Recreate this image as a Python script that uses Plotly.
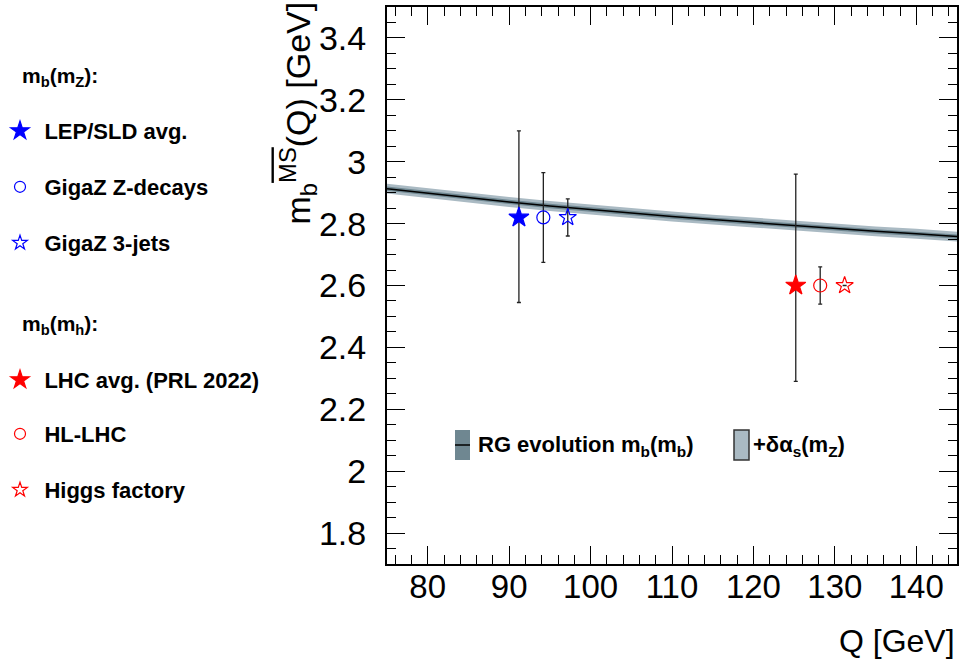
import plotly.graph_objects as go

# ---- data ----
q_curve = [75, 80, 85, 90, 95, 100, 105, 110, 115, 120, 125, 130, 135, 140, 145]
mb_curve = [2.913, 2.898, 2.884, 2.870, 2.857, 2.845, 2.834, 2.823, 2.813, 2.803,
            2.793, 2.784, 2.775, 2.767, 2.758]
mb_inner_err = [0.007] * len(q_curve)    # m_b(m_b) uncertainty
mb_outer_err = [0.016] * len(q_curve)    # + delta alpha_s(m_Z)

names_z = ["LEP/SLD avg.", "GigaZ Z-decays", "GigaZ 3-jets"]
q_z = [91.2, 94.2, 97.2]
mb_z = [2.82, 2.82, 2.82]
up_z = [0.28, 0.145, 0.06]
dn_z = [0.275, 0.145, 0.06]

names_h = ["LHC avg. (PRL 2022)", "HL-LHC", "Higgs factory"]
q_h = [125.2, 128.2, 131.2]
mb_h = [2.60, 2.60, 2.60]
up_h = [0.36, 0.06, 0.0]
dn_h = [0.31, 0.06, 0.0]

band_labels = ["RG evolution m<sub>b</sub>(m<sub>b</sub>)", "+δα<sub>s</sub>(m<sub>Z</sub>)"]

symbols = ["star", "circle-open", "star-open"]
plot_sizes = [15, 13, 13]
leg_sizes = [14, 11, 11]

FONT = "Liberation Sans, Arial, sans-serif"
BAND_OUT = "#aabac3"
BAND_IN = "#6f8791"

# plot-area geometry in pixels (for paper-coordinate placement of text)
L, R, T, B = 387, 957, 7, 564
W, H = R - L, B - T
def px(x):
    return (x - L) / W
def py(y):
    return (B - y) / H

fig = go.Figure()

lo_out = [m - e for m, e in zip(mb_curve, mb_outer_err)]
hi_out = [m + e for m, e in zip(mb_curve, mb_outer_err)]
lo_in = [m - e for m, e in zip(mb_curve, mb_inner_err)]
hi_in = [m + e for m, e in zip(mb_curve, mb_inner_err)]

fig.add_trace(go.Scatter(x=q_curve, y=lo_out, mode="lines", line=dict(width=0),
                         showlegend=False, hoverinfo="skip"))
fig.add_trace(go.Scatter(x=q_curve, y=hi_out, mode="lines", line=dict(width=0),
                         fill="tonexty", fillcolor=BAND_OUT, name=band_labels[1],
                         showlegend=False))
fig.add_trace(go.Scatter(x=q_curve, y=lo_in, mode="lines", line=dict(width=0),
                         showlegend=False, hoverinfo="skip"))
fig.add_trace(go.Scatter(x=q_curve, y=mb_curve, mode="lines",
                         line=dict(width=1.5, color="black"),
                         fill="tonexty", fillcolor=BAND_IN, name=band_labels[0],
                         showlegend=False))
fig.add_trace(go.Scatter(x=q_curve, y=hi_in, mode="lines", line=dict(width=0),
                         fill="tonexty", fillcolor=BAND_IN,
                         showlegend=False, hoverinfo="skip"))

def add_points(qs, ms, ups, dns, names, color):
    for q, m, u, d, n, s, sz in zip(qs, ms, ups, dns, names, symbols, plot_sizes):
        fig.add_trace(go.Scatter(
            x=[q], y=[m], mode="markers", name=n, showlegend=False,
            marker=dict(symbol=s, size=sz, color=color, line=dict(color=color, width=1.2)),
            error_y=dict(type="data", symmetric=False, array=[u], arrayminus=[d],
                         color="#222222", thickness=1.3, width=2)))

add_points(q_z, mb_z, up_z, dn_z, names_z, "#0000ff")
add_points(q_h, mb_h, up_h, dn_h, names_h, "#ff0000")

# legend-only entries (one legend per entry, to reproduce the spaced column)
leg_rows = [131, 187, 243, 380, 434, 490]
all_names = names_z + names_h
all_cols = ["#0000ff"] * 3 + ["#ff0000"] * 3
legend_layouts = {}
for i, (n, c, yrow) in enumerate(zip(all_names, all_cols, leg_rows)):
    lname = "legend" if i == 0 else f"legend{i + 1}"
    fig.add_trace(go.Scatter(
        x=[None], y=[None], mode="markers", name=f"<b>\u2009{n}</b>", legend=lname,
        marker=dict(symbol=symbols[i % 3], size=leg_sizes[i % 3], color=c,
                    line=dict(color=c, width=1.2))))
    legend_layouts[lname] = dict(
        x=px(0), y=py(yrow), xanchor="left", yanchor="middle",
        bgcolor="rgba(0,0,0,0)", borderwidth=0,
        font=dict(family=FONT, size=22, color="black"))

# in-plot legend keys for the bands
shapes = [
    dict(type="rect", xref="paper", yref="paper", x0=px(455), x1=px(470),
         y0=py(460), y1=py(430), fillcolor=BAND_IN, line=dict(width=0)),
    dict(type="line", xref="paper", yref="paper", x0=px(455), x1=px(470),
         y0=py(445), y1=py(445), line=dict(color="black", width=1.5)),
    dict(type="rect", xref="paper", yref="paper", x0=px(734), x1=px(749),
         y0=py(460), y1=py(430), fillcolor=BAND_OUT,
         line=dict(color="#333333", width=1.5)),
]

annotations = [
    dict(text="<b>m<sub>b</sub>(m<sub>Z</sub>):</b>", x=px(20), y=py(77),
         xref="paper", yref="paper", xanchor="left", yanchor="middle", showarrow=False,
         font=dict(family=FONT, size=21, color="black")),
    dict(text="<b>m<sub>b</sub>(m<sub>h</sub>):</b>", x=px(20), y=py(325),
         xref="paper", yref="paper", xanchor="left", yanchor="middle", showarrow=False,
         font=dict(family=FONT, size=21, color="black")),
    dict(text=f"<b>{band_labels[0]}</b>", x=px(476), y=py(446),
         xref="paper", yref="paper", xanchor="left", yanchor="middle", showarrow=False,
         font=dict(family=FONT, size=22, color="black")),
    dict(text=f"<b>{band_labels[1]}</b>", x=px(751), y=py(446),
         xref="paper", yref="paper", xanchor="left", yanchor="middle", showarrow=False,
         font=dict(family=FONT, size=22, color="black")),
    dict(text="m<sub>b</sub><sup><span style='text-decoration:overline'>MS</span></sup>(Q) [GeV]",
         textangle=-90, x=px(297), y=py(0), xref="paper", yref="paper",
         xanchor="center", yanchor="top", showarrow=False,
         font=dict(family=FONT, size=34, color="black")),
    dict(text="Q [GeV]", x=px(957), y=py(641), xref="paper", yref="paper",
         xanchor="right", yanchor="middle", showarrow=False,
         font=dict(family=FONT, size=32, color="black")),
]

fig.update_layout(
    width=961, height=660,
    margin=dict(l=L, r=961 - R, t=T, b=660 - B, autoexpand=False),
    paper_bgcolor="white", plot_bgcolor="white",
    font=dict(family=FONT, color="black"),
    annotations=annotations,
    shapes=shapes,
    showlegend=True,
    **legend_layouts,
)

fig.update_xaxes(
    range=[75, 145], dtick=10, tick0=80, ticks="inside", ticklen=18, tickwidth=1.3,
    tickcolor="black", showline=True, linecolor="black", linewidth=2, mirror="allticks",
    showgrid=False, zeroline=False, tickfont=dict(family=FONT, size=33, color="black"),
    ticklabelstandoff=-8,
    minor=dict(dtick=2, ticks="inside", ticklen=9, tickwidth=1.3, tickcolor="black",
               showgrid=False),
)
fig.update_yaxes(
    range=[1.7, 3.5], dtick=0.2, tick0=1.8, ticks="inside", ticklen=18, tickwidth=1.3,
    tickcolor="black", showline=True, linecolor="black", linewidth=2, mirror="allticks",
    showgrid=False, zeroline=False, tickfont=dict(family=FONT, size=34, color="black"),
    ticklabelstandoff=12,
    minor=dict(dtick=0.05, ticks="inside", ticklen=9, tickwidth=1.3, tickcolor="black",
               showgrid=False),
)

fig.write_html("out.html",
               config={"displayModeBar": False},
               post_script="document.body.style.margin='0';document.body.style.overflow='hidden';")
